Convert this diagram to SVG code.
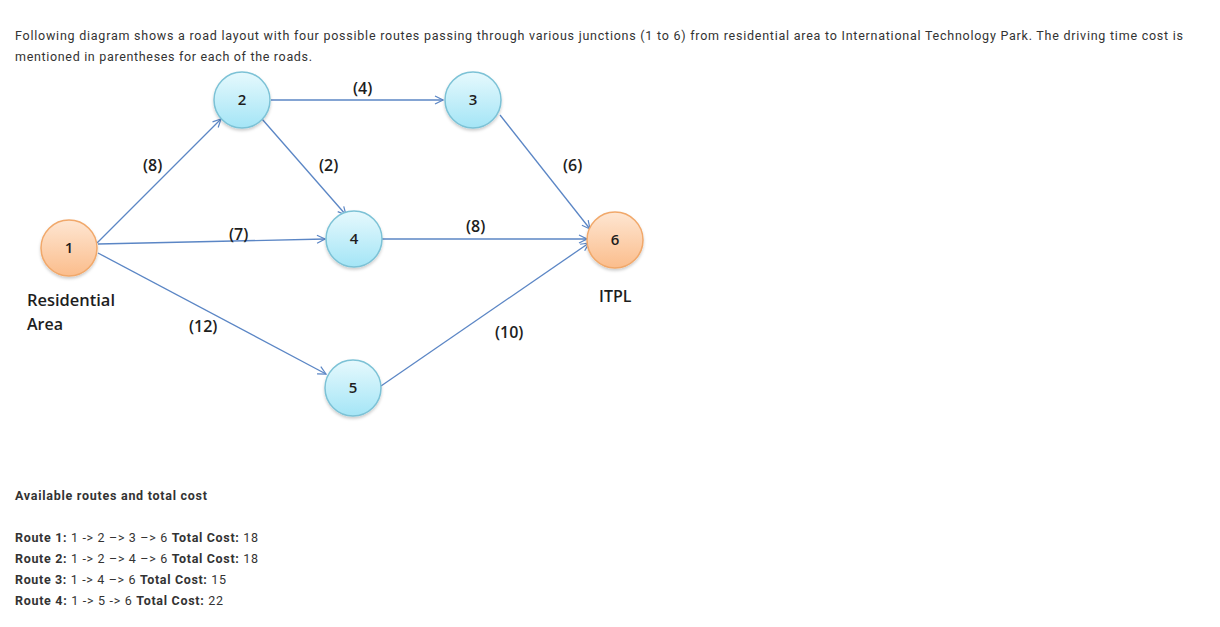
<svg xmlns="http://www.w3.org/2000/svg" width="1220" height="627" viewBox="0 0 1220 627">
<defs>
<linearGradient id="gb" x1="0" y1="0" x2="0" y2="1"><stop offset="0" stop-color="#e6f9fd"/><stop offset="1" stop-color="#a4e5f6"/></linearGradient>
<linearGradient id="go" x1="0" y1="0" x2="0" y2="1"><stop offset="0" stop-color="#fee6d2"/><stop offset="1" stop-color="#fbbd8c"/></linearGradient>
<marker id="ah" viewBox="0 0 10 10" refX="9" refY="5" markerWidth="10" markerHeight="10" markerUnits="userSpaceOnUse" orient="auto"><path d="M1,1 L9,5 L1,9" fill="none" stroke="#5b86c5" stroke-width="1.2"/></marker>
<filter id="sh" x="-20%" y="-20%" width="140%" height="150%"><feDropShadow dx="0" dy="2" stdDeviation="1.5" flood-color="#000" flood-opacity="0.2"/></filter>
</defs>
<style>
.hd{font-family:Roboto,"Liberation Sans",sans-serif;font-size:12.5px;fill:#333}
.lb{font-family:"Open Sans","Liberation Sans",sans-serif;font-size:16px;font-weight:600;fill:#1e1e1e}
.nt{font-family:"Open Sans","Liberation Sans",sans-serif;font-size:15px;font-weight:600;fill:#1e1e1e;text-anchor:middle}
.e{stroke:#5b86c5;stroke-width:1.3;fill:none;marker-end:url(#ah)}
.nb{fill:url(#gb);stroke:#7cc2d6;stroke-width:1.5;filter:url(#sh)}
.no{fill:url(#go);stroke:#f1a86a;stroke-width:1.5;filter:url(#sh)}
.rt{font-family:Roboto,"Liberation Sans",sans-serif;font-size:12.5px;fill:#333}
.b{font-weight:bold}
</style>
<rect width="1220" height="627" fill="#fff"/>
<text class="hd" x="15" y="40" textLength="1168" lengthAdjust="spacing">Following diagram shows a road layout with four possible routes passing through various junctions (1 to 6) from residential area to International Technology Park. The driving time cost is</text>
<text class="hd" x="15" y="61" textLength="297" lengthAdjust="spacing">mentioned in parentheses for each of the roads.</text>
<g id="connectors">
<line class="e" x1="97" y1="243" x2="221" y2="119"/>
<line class="e" x1="271" y1="100" x2="443" y2="100"/>
<line class="e" x1="262" y1="119" x2="346" y2="215"/>
<line class="e" x1="98" y1="244" x2="325" y2="239"/>
<line class="e" x1="382" y1="239" x2="587" y2="239"/>
<line class="e" x1="500" y1="115" x2="590" y2="229"/>
<line class="e" x1="98" y1="253" x2="326" y2="374"/>
<line class="e" x1="381" y1="386" x2="589" y2="243"/>
</g>
<g id="edge-labels">
<text class="lb" x="143" y="171">(8)</text>
<text class="lb" x="353" y="94">(4)</text>
<text class="lb" x="319" y="171">(2)</text>
<text class="lb" x="563" y="171">(6)</text>
<text class="lb" x="229" y="240">(7)</text>
<text class="lb" x="466" y="232">(8)</text>
<text class="lb" x="189" y="332">(12)</text>
<text class="lb" x="495" y="338">(10)</text>
</g>
<g id="node1"><circle class="no" cx="69" cy="248" r="28"/><text class="nt" x="69" y="253">1</text></g>
<g id="node2"><circle class="nb" cx="242" cy="100" r="28"/><text class="nt" x="242" y="105">2</text></g>
<g id="node3"><circle class="nb" cx="473" cy="100" r="28"/><text class="nt" x="473" y="105">3</text></g>
<g id="node4"><circle class="nb" cx="354" cy="239" r="28"/><text class="nt" x="354" y="244">4</text></g>
<g id="node5"><circle class="nb" cx="353" cy="388" r="28"/><text class="nt" x="353" y="393">5</text></g>
<g id="node6"><circle class="no" cx="615" cy="240" r="28"/><text class="nt" x="615" y="245">6</text></g>
<g id="area-labels">
<text class="lb" x="27" y="306" textLength="88" lengthAdjust="spacingAndGlyphs">Residential</text>
<text class="lb" x="27" y="330">Area</text>
<text class="lb" x="599" y="302">ITPL</text>
</g>
<g id="routes">
<text class="rt b" x="15" y="500" textLength="192" lengthAdjust="spacing">Available routes and total cost</text>
<text class="rt" x="15" y="542" textLength="243" lengthAdjust="spacing"><tspan class="b">Route 1:</tspan> 1 -&gt; 2 –&gt; 3 –&gt; 6 <tspan class="b">Total Cost:</tspan> 18</text>
<text class="rt" x="15" y="563" textLength="243" lengthAdjust="spacing"><tspan class="b">Route 2:</tspan> 1 -&gt; 2 –&gt; 4 –&gt; 6 <tspan class="b">Total Cost:</tspan> 18</text>
<text class="rt" x="15" y="584" textLength="211" lengthAdjust="spacing"><tspan class="b">Route 3:</tspan> 1 -&gt; 4 –&gt; 6 <tspan class="b">Total Cost:</tspan> 15</text>
<text class="rt" x="15" y="605" textLength="208" lengthAdjust="spacing"><tspan class="b">Route 4:</tspan> 1 -&gt; 5 -&gt; 6 <tspan class="b">Total Cost:</tspan> 22</text>
</g>
</svg>
